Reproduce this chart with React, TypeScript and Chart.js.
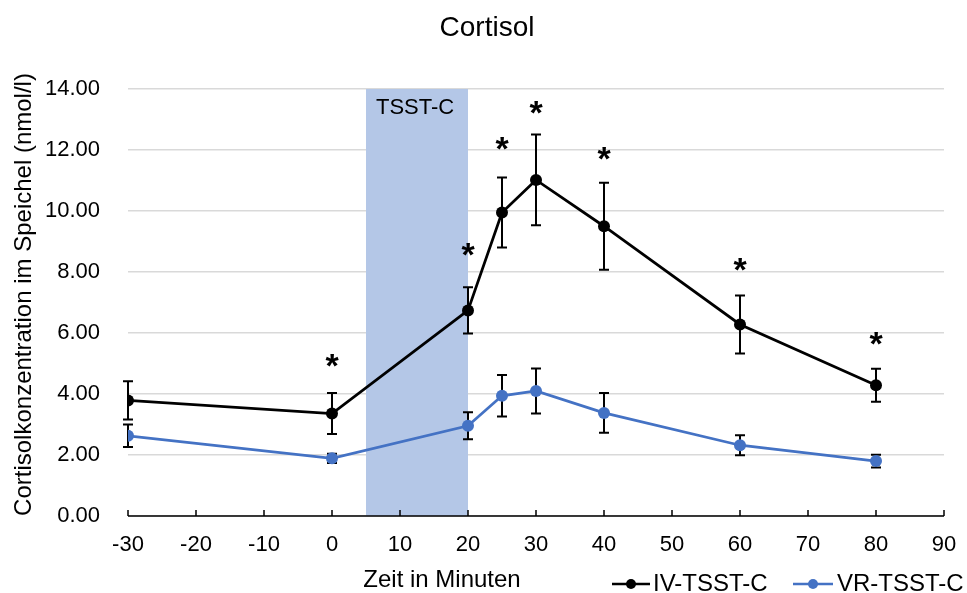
import React, { useEffect, useRef } from "react";
import { Chart, registerables } from "chart.js";

Chart.register(...registerables);

const xValues = [-30, 0, 20, 25, 30, 40, 60, 80];
const ivMeans = [3.79, 3.36, 6.74, 9.95, 11.02, 9.5, 6.28, 4.29];
const ivSD = [0.63, 0.67, 0.76, 1.15, 1.49, 1.43, 0.95, 0.54];
const vrMeans = [2.63, 1.89, 2.96, 3.94, 4.1, 3.38, 2.32, 1.8];
const vrSD = [0.37, 0.15, 0.44, 0.68, 0.74, 0.65, 0.33, 0.21];
const starX = [0, 20, 25, 30, 40, 60, 80];
const starY = [5.1, 8.74, 12.2, 13.4, 11.87, 8.24, 5.82];
const bandRange = [5, 20];
const bandLabel = "TSST-C";
const seriesNames = ["IV-TSST-C", "VR-TSST-C"];
const FONT = "'Liberation Sans', Arial, sans-serif";

export default function App() {
  const ref = useRef<HTMLCanvasElement | null>(null);
  useEffect(() => {
    document.body.style.margin = "0";
    const canvas = ref.current!;
    const colors = ["#000000", "#4472c4"];
    const sds = [ivSD, vrSD];
    const plugin = {
      id: "custom",
      beforeDatasetsDraw(chart: any) {
        const { ctx, chartArea, scales } = chart;
        const x = scales.x, y = scales.y;
        ctx.save();
        // band
        const bx0 = x.getPixelForValue(bandRange[0]);
        const bx1 = x.getPixelForValue(bandRange[1]);
        ctx.fillStyle = "#b4c7e7";
        ctx.fillRect(bx0, chartArea.top, bx1 - bx0, chartArea.bottom - chartArea.top);
        ctx.fillStyle = "#000";
        ctx.font = `22px ${FONT}`;
        ctx.textAlign = "left";
        ctx.textBaseline = "middle";
        ctx.fillText(bandLabel, bx0 + 10, chartArea.top + 19);
        // axis line and inward ticks
        ctx.strokeStyle = "#000";
        ctx.lineWidth = 1.5;
        ctx.beginPath();
        ctx.moveTo(chartArea.left, chartArea.bottom);
        ctx.lineTo(chartArea.right, chartArea.bottom);
        for (const t of x.ticks) {
          const px = Math.round(x.getPixelForValue(t.value));
          ctx.moveTo(px, chartArea.bottom);
          ctx.lineTo(px, chartArea.bottom - 6);
        }
        ctx.stroke();
        // error bars
        ctx.lineWidth = 2;
        ctx.strokeStyle = "#000";
        chart.data.datasets.forEach((ds: any, di: number) => {
          ds.data.forEach((p: any, i: number) => {
            const px = x.getPixelForValue(p.x);
            const top = y.getPixelForValue(p.y + sds[di][i]);
            const bot = y.getPixelForValue(p.y - sds[di][i]);
            ctx.beginPath();
            ctx.moveTo(px, top);
            ctx.lineTo(px, bot);
            ctx.moveTo(px - 5, top);
            ctx.lineTo(px + 5, top);
            ctx.moveTo(px - 5, bot);
            ctx.lineTo(px + 5, bot);
            ctx.stroke();
          });
        });
        ctx.restore();
      },
      afterDraw(chart: any) {
        const { ctx, chartArea, scales } = chart;
        const x = scales.x, y = scales.y;
        ctx.save();
        // stars
        ctx.fillStyle = "#000";
        ctx.font = `bold 34px ${FONT}`;
        ctx.textAlign = "center";
        ctx.textBaseline = "alphabetic";
        const m = ctx.measureText("*");
        const off = (m.actualBoundingBoxDescent - m.actualBoundingBoxAscent) / 2;
        starX.forEach((sx, i) => {
          ctx.fillText("*", x.getPixelForValue(sx), y.getPixelForValue(starY[i]) - off);
        });
        // title
        ctx.font = `28px ${FONT}`;
        ctx.textBaseline = "middle";
        ctx.fillText("Cortisol", 487, 28);
        // x title
        ctx.font = `24px ${FONT}`;
        ctx.fillText("Zeit in Minuten", 442, 580);
        // y title
        ctx.save();
        ctx.translate(24, (chartArea.top + chartArea.bottom) / 2 - 8);
        ctx.rotate(-Math.PI / 2);
        ctx.fillText("Cortisolkonzentration im Speichel (nmol/l)", 0, 0);
        ctx.restore();
        // legend
        const items = [
          { x0: 612, x1: 650, tx: 653 },
          { x0: 793, x1: 833, tx: 837 },
        ];
        items.forEach((it, i) => {
          const ly = 584;
          ctx.strokeStyle = colors[i];
          ctx.lineWidth = 2.5;
          ctx.beginPath();
          ctx.moveTo(it.x0, ly);
          ctx.lineTo(it.x1, ly);
          ctx.stroke();
          ctx.fillStyle = colors[i];
          ctx.beginPath();
          ctx.arc((it.x0 + it.x1) / 2, ly, 5, 0, Math.PI * 2);
          ctx.fill();
          ctx.fillStyle = "#000";
          ctx.textAlign = "left";
          ctx.font = `24px ${FONT}`;
          ctx.fillText(seriesNames[i], it.tx, ly);
        });
        ctx.restore();
      },
    };
    const makeData = (means: number[]) => xValues.map((v, i) => ({ x: v, y: means[i] }));
    const chart = new Chart(canvas, {
      type: "line",
      data: {
        datasets: [
          {
            label: seriesNames[0],
            data: makeData(ivMeans),
            borderColor: colors[0],
            backgroundColor: colors[0],
            borderWidth: 2.75,
            pointRadius: 6,
            pointBorderWidth: 0,
            tension: 0,
          },
          {
            label: seriesNames[1],
            data: makeData(vrMeans),
            borderColor: colors[1],
            backgroundColor: colors[1],
            borderWidth: 2.75,
            pointRadius: 6,
            pointBorderWidth: 0,
            tension: 0,
          },
        ],
      },
      options: {
        animation: false,
        responsive: false,
        layout: { padding: { top: 89, right: 23, left: 0, bottom: 0 } },
        plugins: { legend: { display: false }, tooltip: { enabled: false }, title: { display: false } },
        scales: {
          x: {
            type: "linear",
            min: -30,
            max: 90,
            ticks: { stepSize: 10, color: "#000", font: { size: 22, family: FONT }, padding: 16 },
            grid: { display: false, drawTicks: false },
            border: { display: false },
            afterFit: (s: any) => { s.height = 77; s.paddingRight = 0; s.paddingLeft = 0; },
          },
          y: {
            min: 0,
            max: 14,
            ticks: {
              stepSize: 2,
              color: "#000",
              font: { size: 22, family: FONT },
              padding: 28,
              callback: (v: any) => Number(v).toFixed(2),
            },
            grid: { color: "#d9d9d9", lineWidth: 1.5, drawTicks: false },
            border: { display: false },
            afterFit: (s: any) => { s.width = 128; s.paddingTop = 0; s.paddingBottom = 0; },
          },
        },
      },
      plugins: [plugin],
    });
    return () => chart.destroy();
  }, []);
  return (
    <div style={{ position: "absolute", left: 0, top: 0, width: 967, height: 593, background: "#fff" }}>
      <canvas ref={ref} width={967} height={593} style={{ width: 967, height: 593 }} />
    </div>
  );
}
